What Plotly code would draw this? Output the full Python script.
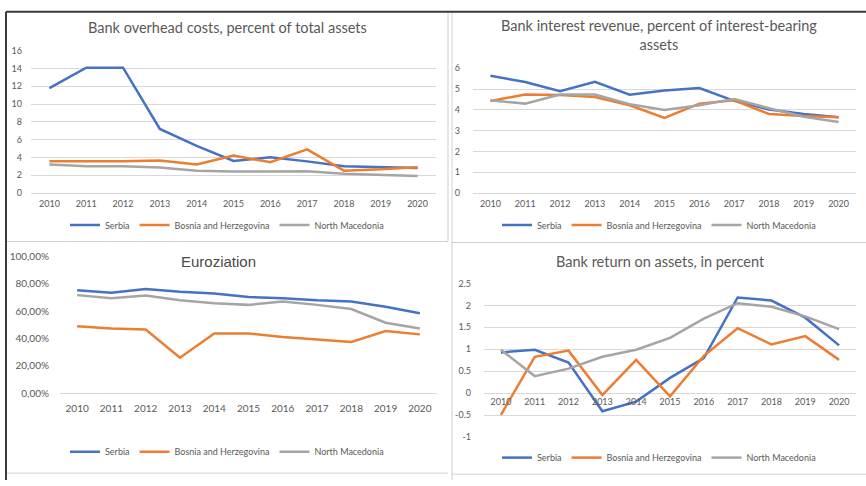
import plotly.graph_objects as go

years = ["2010", "2011", "2012", "2013", "2014", "2015", "2016", "2017", "2018", "2019", "2020"]
series_names = ["Serbia", "Bosnia and Herzegovina", "North Macedonia"]
colors = ["#4472C4", "#ED7D31", "#A5A5A5"]

# Panel 1: Bank overhead costs, percent of total assets
overhead_serbia = [11.8, 14.1, 14.1, 7.2, 5.3, 3.6, 4.0, 3.55, 3.0, 2.9, 2.8]
overhead_bih = [3.55, 3.55, 3.55, 3.65, 3.2, 4.2, 3.45, 4.9, 2.5, 2.65, 2.9]
overhead_mkd = [3.2, 3.0, 3.0, 2.85, 2.5, 2.4, 2.4, 2.45, 2.15, 2.0, 1.9]

# Panel 2: Bank interest revenue, percent of interest-bearing assets
interest_serbia = [5.64, 5.34, 4.9, 5.35, 4.73, 4.93, 5.05, 4.43, 4.02, 3.8, 3.64]
interest_bih = [4.43, 4.74, 4.71, 4.62, 4.22, 3.61, 4.3, 4.46, 3.8, 3.7, 3.64]
interest_mkd = [4.46, 4.3, 4.74, 4.74, 4.27, 3.99, 4.22, 4.52, 4.08, 3.67, 3.41]

# Panel 3: Euroziation (percent)
euro_serbia = [75.2, 73.3, 76.1, 74.0, 72.8, 70.2, 69.3, 67.8, 66.9, 63.1, 58.4]
euro_bih = [48.9, 47.3, 46.6, 26.0, 43.7, 43.7, 41.1, 39.5, 37.4, 45.4, 43.0]
euro_mkd = [71.6, 69.3, 71.4, 67.8, 65.7, 64.5, 66.9, 64.5, 61.5, 51.5, 47.3]
euro_tickvals = [0, 20, 40, 60, 80, 100]
euro_ticktext = ["0,00%", "20,00%", "40,00%", "60,00%", "80,00%", "100,00%"]

# Panel 4: Bank return on assets, in percent
roa_serbia = [0.93, 0.99, 0.70, -0.41, -0.19, 0.35, 0.80, 2.18, 2.11, 1.72, 1.09]
roa_bih = [-0.49, 0.83, 0.97, -0.04, 0.76, -0.07, 0.85, 1.48, 1.11, 1.30, 0.76]
roa_mkd = [0.99, 0.39, 0.56, 0.83, 0.99, 1.26, 1.70, 2.05, 1.97, 1.75, 1.46]
roa_tickvals = [-1, -0.5, 0, 0.5, 1, 1.5, 2, 2.5]
roa_ticktext = ["-1", "-0.5", "0", "0.5", "1", "1.5", "2", "2.5"]

W, H = 866, 486
FONT = "Lato"
GREY = "#595959"
GRID = "#D9D9D9"


def px(x):
    return x / W


def py(y):
    return 1 - y / H


fig = go.Figure()

panels = [
    ([overhead_serbia, overhead_bih, overhead_mkd], "x", "y", "legend"),
    ([interest_serbia, interest_bih, interest_mkd], "x2", "y2", "legend2"),
    ([euro_serbia, euro_bih, euro_mkd], "x3", "y3", "legend3"),
    ([roa_serbia, roa_bih, roa_mkd], "x4", "y4", "legend4"),
]
for data, xa, ya, lg in panels:
    for name, vals, col in zip(series_names, data, colors):
        fig.add_trace(go.Scatter(
            x=years, y=vals, name=name, mode="lines",
            line=dict(color=col, width=2.5),
            xaxis=xa, yaxis=ya, legend=lg, showlegend=True,
        ))

tickfont = dict(family=FONT, size=9, color=GREY)
tickfont3 = dict(family=FONT, size=10, color=GREY)

xcommon = dict(type="category", range=[-0.5, 10.5], showgrid=False, zeroline=False,
               ticks="", fixedrange=True)

fig.update_layout(
    width=W, height=H,
    margin=dict(l=0, r=0, t=0, b=0),
    paper_bgcolor="white", plot_bgcolor="white",
    font=dict(family=FONT, color=GREY),
    xaxis=dict(domain=[px(31), px(436)], anchor="y", tickfont=tickfont,
               showline=True, linecolor=GRID, linewidth=1, ticklabelstandoff=2, **xcommon),
    yaxis=dict(domain=[py(191), py(45)], anchor="x", range=[0, 16], dtick=2,
               showgrid=True, gridcolor=GRID, zeroline=False, ticks="",
               tickfont=tickfont, ticklabelstandoff=8),
    xaxis2=dict(domain=[px(473), px(856)], anchor="y2", tickfont=tickfont,
                showline=True, linecolor=GRID, linewidth=1, ticklabelstandoff=2, **xcommon),
    yaxis2=dict(domain=[py(191), py(63)], anchor="x2", range=[0, 6], dtick=1,
                showgrid=True, gridcolor=GRID, zeroline=False, ticks="",
                tickfont=tickfont, ticklabelstandoff=12),
    xaxis3=dict(domain=[px(60), px(437)], anchor="y3", tickfont=tickfont3,
                showline=True, linecolor=GRID, linewidth=1, ticklabelstandoff=6, **xcommon),
    yaxis3=dict(domain=[py(397), py(256)], anchor="x3", range=[0, 100],
                tickvals=euro_tickvals, ticktext=euro_ticktext,
                showgrid=False, zeroline=False, ticks="",
                tickfont=tickfont3, ticklabelstandoff=10),
    xaxis4=dict(domain=[px(484), px(856)], anchor="free", position=py(397), tickfont=tickfont,
                showline=False, ticklabelstandoff=2, **xcommon),
    yaxis4=dict(domain=[py(442), py(284)], anchor="x4", range=[-1, 2.5],
                tickvals=roa_tickvals, ticktext=roa_ticktext,
                showgrid=True, gridcolor=GRID, zeroline=False, ticks="",
                tickfont=tickfont, ticklabelstandoff=12),
)

legfont = dict(family=FONT, size=9, color=GREY)
legcommon = dict(orientation="h", xanchor="center", yanchor="middle", font=legfont,
                 bgcolor="rgba(0,0,0,0)", itemwidth=30, tracegroupgap=0)
fig.update_layout(
    legend=dict(x=px(227), y=py(224), **legcommon),
    legend2=dict(x=px(659), y=py(224), **legcommon),
    legend3=dict(x=px(227), y=py(457), **legcommon),
    legend4=dict(x=px(659), y=py(463), **legcommon),
)

titles = [
    ("Bank overhead costs, percent of total assets", 227, 21, 14.5, FONT, GREY),
    ("Bank interest revenue, percent of interest-bearing<br>assets", 659, 29, 14.5, FONT, GREY),
    ("Euroziation", 218, 262, 15, "Liberation Sans", "#4a4a4a"),
    ("Bank return on assets, in percent", 660, 262, 14.5, FONT, GREY),
]
for text, x, y, size, fam, col in titles:
    fig.add_annotation(text=text, x=px(x), y=py(y), xref="paper", yref="paper",
                       xanchor="center", yanchor="middle", showarrow=False,
                       font=dict(family=fam, size=size, color=col))

LIGHT = "#D0D0D0"
DARK = "#3A3A3A"
lines = [
    (448, 5, 448, 241, LIGHT, 1),
    (452, 5, 452, 486, LIGHT, 1),
    (6, 241, 448, 241, LIGHT, 1),
    (452, 242, 866, 242, LIGHT, 1),
    (6, 479, 448, 479, LIGHT, 1),
    (452, 480, 866, 480, LIGHT, 1),
    (6, 5, 866, 5, DARK, 2),
    (6, 5, 6, 486, DARK, 2),
]
for x0, y0, x1, y1, col, w in lines:
    fig.add_shape(type="line", xref="paper", yref="paper",
                  x0=px(x0), y0=py(y0), x1=px(x1), y1=py(y1),
                  line=dict(color=col, width=w))

fig.write_html("out.html", config={"displayModeBar": False},
               post_script="document.body.style.margin='0';")
